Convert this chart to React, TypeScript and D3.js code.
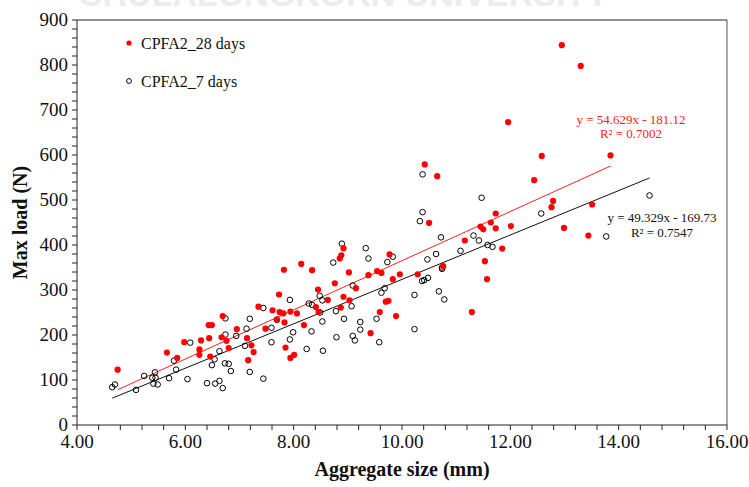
import React from "react";
import * as d3 from "d3";

const red28X = [4.75,5.66,5.85,5.98,6.29,6.26,6.26,6.44,6.43,6.49,6.46,6.69,6.67,6.76,6.80,6.95,7.14,7.22,7.26,7.16,7.35,7.48,7.61,7.69,7.73,7.74,7.81,7.82,7.83,7.85,7.94,7.94,8.01,8.06,8.14,8.19,8.34,8.41,8.45,8.46,8.63,8.76,8.85,8.88,8.92,8.87,8.92,9.02,9.03,9.15,9.38,9.42,9.54,9.62,9.59,9.70,9.75,9.77,9.83,9.89,9.96,10.29,10.42,10.50,10.65,10.76,11.16,11.29,11.45,11.50,11.53,11.57,11.64,11.73,11.73,11.85,11.96,12.01,12.44,12.58,12.76,12.79,12.95,12.99,13.30,13.44,13.51,13.85];
const red28Y = [123,161,149,184,188,168,156,193,222,222,152,242,195,187,171,213,193,177,162,144,263,214,255,234,290,251,248,345,228,172,252,149,156,248,358,222,344,262,301,251,278,315,370,377,393,261,285,339,277,304,333,204,342,338,251,274,276,379,324,242,335,335,579,449,553,353,410,251,441,435,364,324,450,470,437,392,673,442,544,598,484,498,844,438,798,421,490,599];

const black7X = [4.65,4.70,5.09,5.24,5.44,5.39,5.45,5.41,5.49,5.70,5.79,5.83,6.04,6.09,6.40,6.49,6.54,6.55,6.63,6.69,6.63,6.74,6.74,6.73,6.80,6.84,6.94,7.10,7.13,7.19,7.19,7.44,7.44,7.59,7.59,7.69,7.93,7.93,7.99,8.24,8.28,8.34,8.33,8.48,8.49,8.53,8.53,8.54,8.73,8.78,8.79,8.89,8.93,9.07,9.09,9.09,9.13,9.23,9.23,9.33,9.38,9.53,9.58,9.62,9.68,9.73,9.83,10.23,10.23,10.33,10.38,10.38,10.37,10.41,10.47,10.48,10.63,10.68,10.72,10.74,10.74,10.78,11.08,11.32,11.42,11.47,11.58,11.67,12.57,13.77,14.57];
const black7Y = [84,90,78,109,117,105,105,92,90,104,143,123,102,183,93,133,146,92,98,82,164,201,237,137,136,120,198,176,214,236,118,103,260,216,184,234,278,190,206,169,270,267,208,287,250,277,230,165,361,253,195,403,236,264,310,198,188,229,212,393,370,236,184,294,304,362,374,289,213,453,473,557,320,322,368,327,380,297,417,347,350,279,387,421,410,505,400,396,470,419,510];

const seriesNames = ["CPFA2_28 days", "CPFA2_7 days"];
const fitRed = { slope: 54.629, intercept: -181.12, label: "y = 54.629x - 181.12", r2: "R² = 0.7002" };
const fitBlack = { slope: 49.329, intercept: -169.73, label: "y = 49.329x - 169.73", r2: "R² = 0.7547" };

const xMajor = [4, 6, 8, 10, 12, 14, 16];
const yMajor = [0, 100, 200, 300, 400, 500, 600, 700, 800, 900];

const W = 749, H = 487;
const M = { left: 77, top: 20, right: 22, bottom: 62 };
const SERIF = "'Liberation Serif', 'Times New Roman', serif";

export default function App() {
  const x = d3.scaleLinear().domain([4, 16]).range([M.left, W - M.right]);
  const y = d3.scaleLinear().domain([0, 900]).range([H - M.bottom, M.top]);
  const xMinor = d3.range(4, 16.001, 0.4);
  const yMinor = d3.range(0, 900.001, 20);
  const red = red28X.map((v, i) => [v, red28Y[i]]);
  const blk = black7X.map((v, i) => [v, black7Y[i]]);
  const redExt = d3.extent(red28X) as [number, number];
  const blkExt = d3.extent(black7X) as [number, number];
  const line = d3.line<number>().x((d) => x(d[0])).y((d) => y(d[1]));
  const redLine = line(redExt.map((v) => [v, fitRed.slope * v + fitRed.intercept]) as any);
  const blkLine = line(blkExt.map((v) => [v, fitBlack.slope * v + fitBlack.intercept]) as any);
  const x0 = M.left, x1 = W - M.right, y0 = H - M.bottom, y1 = M.top;

  return (
    <svg width={W} height={H} style={{ position: "absolute", left: 0, top: 0, background: "#fff" }}>
      <rect x={0} y={0} width={W} height={H} fill="#fff" />
      <text x={78} y={6} fontFamily="'Liberation Sans', Arial, sans-serif" fontWeight="bold" fontSize={34} fill="#ececec">CHULALONGKORN UNIVERSITY</text>
      {/* frame */}
      <line x1={x0} x2={x1} y1={y1} y2={y1} stroke="#222" strokeWidth={1} />
      <line x1={x1} x2={x1} y1={y1} y2={y0} stroke="#555" strokeWidth={1} />
      <line x1={x0} x2={x1} y1={y0} y2={y0} stroke="#222" strokeWidth={1} />
      <line x1={x0} x2={x0} y1={y1} y2={y0} stroke="#222" strokeWidth={1} />
      {/* x ticks */}
      {xMinor.map((v, i) => (
        <line key={"xm" + i} x1={x(v)} x2={x(v)} y1={y0} y2={y0 + 5} stroke="#222" />
      ))}
      {xMajor.map((v) => (
        <text key={"xl" + v} x={x(v)} y={y0 + 23} textAnchor="middle" fontFamily={SERIF} fontSize={19} fill="#111">{d3.format(".2f")(v)}</text>
      ))}
      {yMinor.map((v, i) => (
        <line key={"ym" + i} x1={x0 - 5} x2={x0} y1={y(v)} y2={y(v)} stroke="#222" />
      ))}
      {yMajor.map((v) => (
        <text key={"yl" + v} x={x0 - 9} y={y(v) + 6} textAnchor="end" fontFamily={SERIF} fontSize={19} fill="#111">{v}</text>
      ))}
      <text x={(x0 + x1) / 2} y={476} textAnchor="middle" fontFamily={SERIF} fontWeight="bold" fontSize={20} fill="#111">Aggregate size (mm)</text>
      <text transform={`translate(27,${(y0 + y1) / 2}) rotate(-90)`} textAnchor="middle" fontFamily={SERIF} fontWeight="bold" fontSize={20} fill="#111">Max load (N)</text>
      {/* fit lines */}
      <path d={redLine || ""} stroke="#ff2020" strokeWidth={1} fill="none" />
      <path d={blkLine || ""} stroke="#111" strokeWidth={1} fill="none" />
      {/* points */}
      {blk.map((d, i) => (
        <circle key={"b" + i} cx={x(d[0])} cy={y(d[1])} r={2.8} fill="none" stroke="#000" strokeWidth={1} />
      ))}
      {red.map((d, i) => (
        <circle key={"r" + i} cx={x(d[0])} cy={y(d[1])} r={3.1} fill="#ff0000" />
      ))}
      {/* equations */}
      <text x={631} y={124} textAnchor="middle" fontFamily={SERIF} fontSize={13} fill="#ff2020">{fitRed.label}</text>
      <text x={631} y={138} textAnchor="middle" fontFamily={SERIF} fontSize={13} fill="#ff2020">{fitRed.r2}</text>
      <text x={662} y={222} textAnchor="middle" fontFamily={SERIF} fontSize={13} fill="#111">{fitBlack.label}</text>
      <text x={662} y={237} textAnchor="middle" fontFamily={SERIF} fontSize={13} fill="#111">{fitBlack.r2}</text>
      {/* legend */}
      <circle cx={129} cy={43} r={2.6} fill="#ff0000" />
      <text x={141} y={49} fontFamily={SERIF} fontSize={16} fill="#111">{seriesNames[0]}</text>
      <circle cx={129} cy={81} r={2.4} fill="none" stroke="#000" strokeWidth={1} />
      <text x={141} y={87} fontFamily={SERIF} fontSize={16} fill="#111">{seriesNames[1]}</text>
    </svg>
  );
}
